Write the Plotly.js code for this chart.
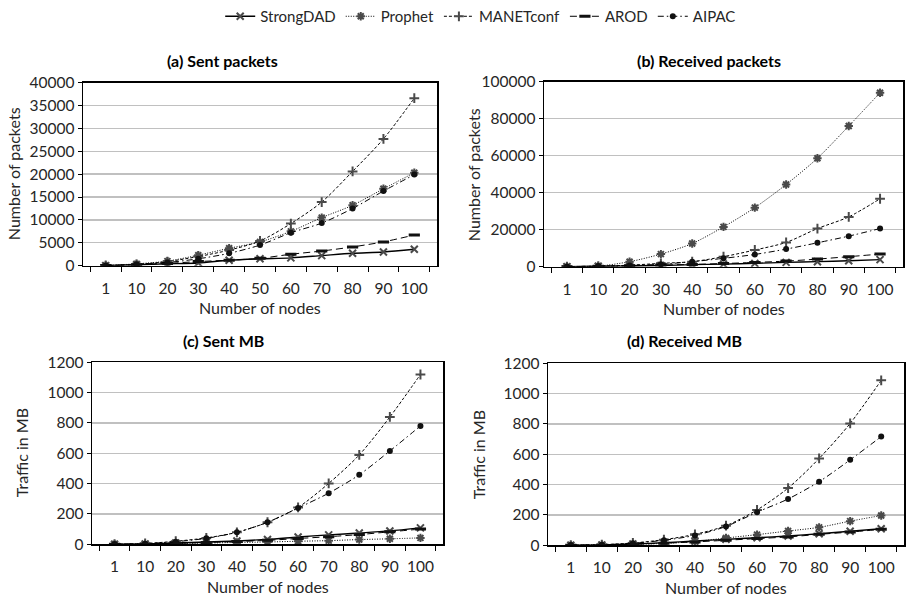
<!DOCTYPE html>
<html>
<head>
<meta charset="utf-8">
<script src="https://cdn.plot.ly/plotly-3.0.1.min.js"></script>
<style>html,body{margin:0;padding:0;background:#fff;}#chart{width:907px;height:598px;}</style>
</head>
<body>
<div id="chart"></div>
<script>
// ---- data ----
const nodes = ['1','10','20','30','40','50','60','70','80','90','100'];
const seriesNames = ['StrongDAD','Prophet','MANETconf','AROD','AIPAC'];

const sentPacketsStrongDAD = [20,200,400,600,1200,1500,1700,2200,2700,3000,3600];
const sentPacketsProphet   = [50,400,1000,2300,3800,5200,7500,10500,13200,16800,20300];
const sentPacketsMANETconf = [50,300,900,2000,3400,5400,9200,13900,20600,27700,36600];
const sentPacketsAROD      = [20,200,500,900,1200,1600,2500,3200,4100,5200,6700];
const sentPacketsAIPAC     = [30,300,700,1500,2700,4500,7200,9300,12500,16300,19900];

const recvPacketsStrongDAD = [20,200,400,600,1100,1400,1800,2300,2700,3200,3800];
const recvPacketsProphet   = [50,300,2700,6800,12500,21500,31900,44400,58600,76000,94000];
const recvPacketsMANETconf = [50,300,800,1800,2700,5400,9000,13100,20600,26900,36700];
const recvPacketsAROD      = [20,200,500,900,1200,1700,2300,3000,4100,5400,6800];
const recvPacketsAIPAC     = [30,300,600,1300,2700,4500,6600,9500,12900,16500,20600];

const sentMBStrongDAD = [0.5,2,8,15,22,32,48,62,74,88,108];
const sentMBProphet   = [0.3,1,5,8,12,15,20,24,31,36,42];
const sentMBMANETconf = [1,5,20,42,79,145,243,401,589,839,1119];
const sentMBAROD      = [0.5,2,6,12,18,26,38,50,64,82,100];
const sentMBAIPAC     = [1,4,17,39,79,145,239,337,458,615,780];

const recvMBStrongDAD = [0.5,2,8,17,28,39,50,61,76,92,109];
const recvMBProphet   = [0.5,2,6,12,25,48,70,94,118,159,196];
const recvMBMANETconf = [1,4,15,37,72,129,233,377,572,803,1087];
const recvMBAROD      = [0.5,2,6,14,22,33,44,55,72,87,105];
const recvMBAIPAC     = [1,3,13,33,65,124,218,305,419,563,716];

const panelTitles = ['(a) Sent packets','(b) Received packets','(c) Sent MB','(d) Received MB'];
const yTitles = ['Number of packets','Number of packets','Traffic in MB','Traffic in MB'];
const xTitle = 'Number of nodes';
const yRanges = [[0,40000],[0,100000],[0,1200],[0,1200]];
const yDticks = [5000,20000,200,200];

const panels = [
  [sentPacketsStrongDAD, sentPacketsProphet, sentPacketsMANETconf, sentPacketsAROD, sentPacketsAIPAC],
  [recvPacketsStrongDAD, recvPacketsProphet, recvPacketsMANETconf, recvPacketsAROD, recvPacketsAIPAC],
  [sentMBStrongDAD, sentMBProphet, sentMBMANETconf, sentMBAROD, sentMBAIPAC],
  [recvMBStrongDAD, recvMBProphet, recvMBMANETconf, recvMBAROD, recvMBAIPAC]
];

// ---- styles ----
const FONT = 'Lato, "Open Sans", sans-serif';
const TXT = '#262626';
const styles = [
  {line:{color:'#000', width:1.4, dash:'solid'}, marker:{symbol:'x-thin-open', size:7, color:'#4a4a4a', line:{width:2, color:'#4a4a4a'}}},
  {line:{color:'#000', width:1, dash:'1px,1.5px'}, marker:{symbol:'asterisk-open', size:7, color:'#4a4a4a', line:{width:2, color:'#4a4a4a'}}},
  {line:{color:'#000', width:1, dash:'3px,2px'}, marker:{symbol:'cross-thin-open', size:7, color:'#4a4a4a', line:{width:2, color:'#4a4a4a'}}},
  {line:{color:'#000', width:1, dash:'7px,4px'}, marker:{symbol:'line-ew-open', size:8, color:'#111', line:{width:3, color:'#111'}}},
  {line:{color:'#000', width:1, dash:'6px,3px,1.5px,3px'}, marker:{symbol:'circle', size:6, color:'#111', line:{width:0}}}
];

// plot-area domains (fractions of the 907x598 paper)
const W = 907, H = 598;
const boxes = [
  {x0:83, x1:437, y0:80, y1:264},
  {x0:544, x1:903, y0:79, y1:265},
  {x0:92, x1:443, y0:361, y1:544},
  {x0:548, x1:904, y0:362, y1:545}
];
const titlePos = [{x:222,y:58},{x:709,y:58},{x:223,y:339},{x:684,y:339}];
const yTitlePos = [{x:13},{x:473},{x:21},{x:478}];

const traces = [];
const layout = {
  width: W, height: H,
  margin:{l:0,r:0,t:0,b:0,pad:0},
  paper_bgcolor:'#fff', plot_bgcolor:'#fff',
  font:{family:FONT, size:15, color:TXT},
  showlegend:true,
  legend:{orientation:'h', x:0.53, xanchor:'center', y:1.005, yanchor:'top',
          font:{family:FONT, size:15, color:TXT}, itemwidth:30, tracegroupgap:0,
          bgcolor:'rgba(0,0,0,0)'},
  annotations:[]
};

panels.forEach((pdata, p) => {
  const ax = p === 0 ? '' : String(p+1);
  const b = boxes[p];
  layout['xaxis'+ax] = {
    domain:[b.x0/W, b.x1/W], anchor:'y'+ax, type:'category',
    tickson:'boundaries', ticks:'outside', ticklen:5, tickwidth:1, tickcolor:'#000',
    showline:true, linecolor:'#000', linewidth:1.5, mirror:true,
    showgrid:false, zeroline:false, ticklabelstandoff:8, tickangle:0,
    tickfont:{family:FONT, size:15.5, color:TXT}, fixedrange:true
  };
  layout['yaxis'+ax] = {
    domain:[1-b.y1/H, 1-b.y0/H], anchor:'x'+ax, range:yRanges[p], dtick:yDticks[p],
    tickformat:'d',
    ticks:'outside', ticklen:4, tickwidth:1, tickcolor:'#000',
    showline:true, linecolor:'#000', linewidth:1.5, mirror:true,
    showgrid:true, gridcolor:'#c0c0c0', gridwidth:1.3, zeroline:false,
    tickfont:{family:FONT, size:15.5, color:TXT}, fixedrange:true
  };
  pdata.forEach((vals, s) => {
    traces.push({
      type:'scatter', mode:'lines+markers', name:seriesNames[s],
      x:nodes, y:vals, xaxis:'x'+ax, yaxis:'y'+ax,
      line:Object.assign({shape:'spline', smoothing:0.8}, styles[s].line),
      marker:styles[s].marker,
      legendgroup:seriesNames[s], showlegend:p===0
    });
  });
  layout.annotations.push({
    text:'<b>'+panelTitles[p]+'</b>', xref:'paper', yref:'paper',
    x:titlePos[p].x/W, y:1-titlePos[p].y/H, xanchor:'center', yanchor:'middle',
    showarrow:false, font:{family:FONT, size:16, color:'#000'}
  });
  layout.annotations.push({
    text:yTitles[p], xref:'paper', yref:'paper', textangle:-90,
    x:yTitlePos[p].x/W, y:1-((b.y0+b.y1)/2)/H, xanchor:'center', yanchor:'middle',
    showarrow:false, font:{family:FONT, size:16, color:TXT}
  });
  layout.annotations.push({
    text:xTitle, xref:'paper', yref:'paper',
    x:((b.x0+b.x1)/2)/W, y:1-(b.y1+42)/H, xanchor:'center', yanchor:'middle',
    showarrow:false, font:{family:FONT, size:16, color:TXT}
  });
});

Plotly.newPlot('chart', traces, layout, {staticPlot:true, displayModeBar:false});
</script>
</body>
</html>
